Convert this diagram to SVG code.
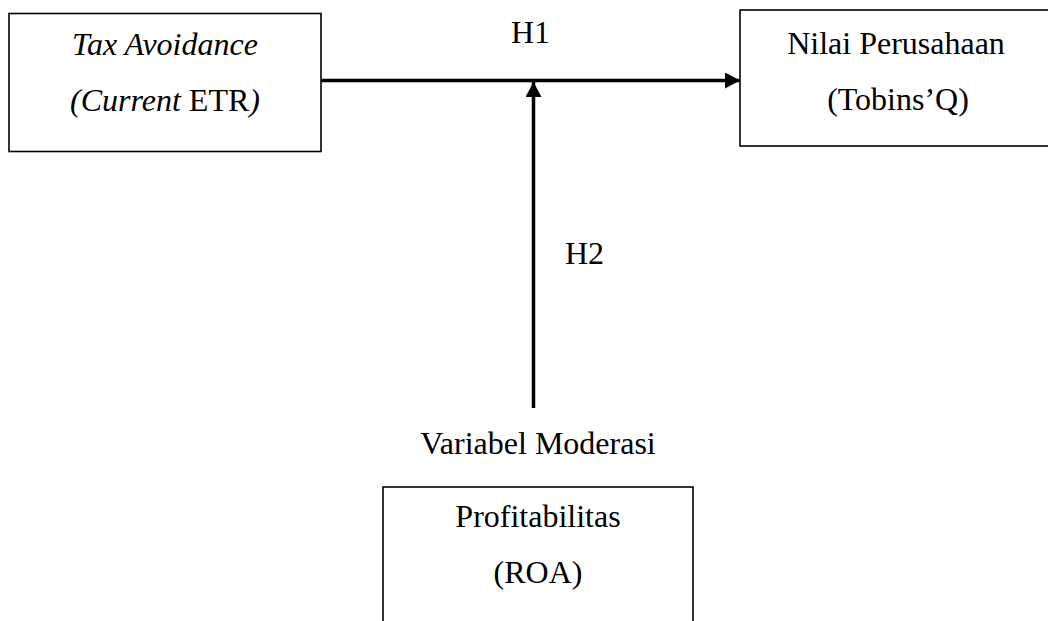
<svg xmlns="http://www.w3.org/2000/svg" width="1048" height="621" viewBox="0 0 1048 621">
<style>
.box{fill:#fff;stroke:#000;stroke-width:1.6}
.t{font-family:"Liberation Serif","Times New Roman",serif;font-size:32px;fill:#000}
.c{text-anchor:middle}
.ln{stroke:#000;stroke-width:3.5;fill:none}
</style>
<defs>
<marker id="ah" markerWidth="15" markerHeight="16" refX="15" refY="8" orient="auto" markerUnits="userSpaceOnUse">
<path d="M0,0 L15,8 L0,16 Z" fill="#000"/>
</marker>
</defs>
<rect width="1048" height="621" fill="#fff"/>
<g id="connectors">
<line class="ln" x1="321" y1="80.5" x2="740" y2="80.5" marker-end="url(#ah)"/>
<line class="ln" x1="533.5" y1="408" x2="533.5" y2="82" marker-end="url(#ah)"/>
<text class="t" x="511" y="43">H1</text>
<text class="t" x="565" y="264">H2</text>
</g>
<g id="tax-avoidance">
<rect class="box" x="9" y="13.5" width="312" height="138"/>
<text class="t c" x="165" y="55"><tspan font-style="italic">Tax Avoidance</tspan></text>
<text class="t c" x="165" y="111"><tspan font-style="italic">(Current</tspan> ETR<tspan font-style="italic">)</tspan></text>
</g>
<g id="nilai-perusahaan">
<rect class="box" x="740" y="10" width="314" height="136"/>
<text class="t c" x="896" y="54">Nilai Perusahaan</text>
<text class="t c" x="898" y="110">(Tobins’Q)</text>
</g>
<g id="profitabilitas">
<text class="t c" x="538" y="454">Variabel Moderasi</text>
<rect class="box" x="383" y="487" width="310" height="150"/>
<text class="t c" x="538" y="527">Profitabilitas</text>
<text class="t c" x="538" y="583">(ROA)</text>
</g>
</svg>
